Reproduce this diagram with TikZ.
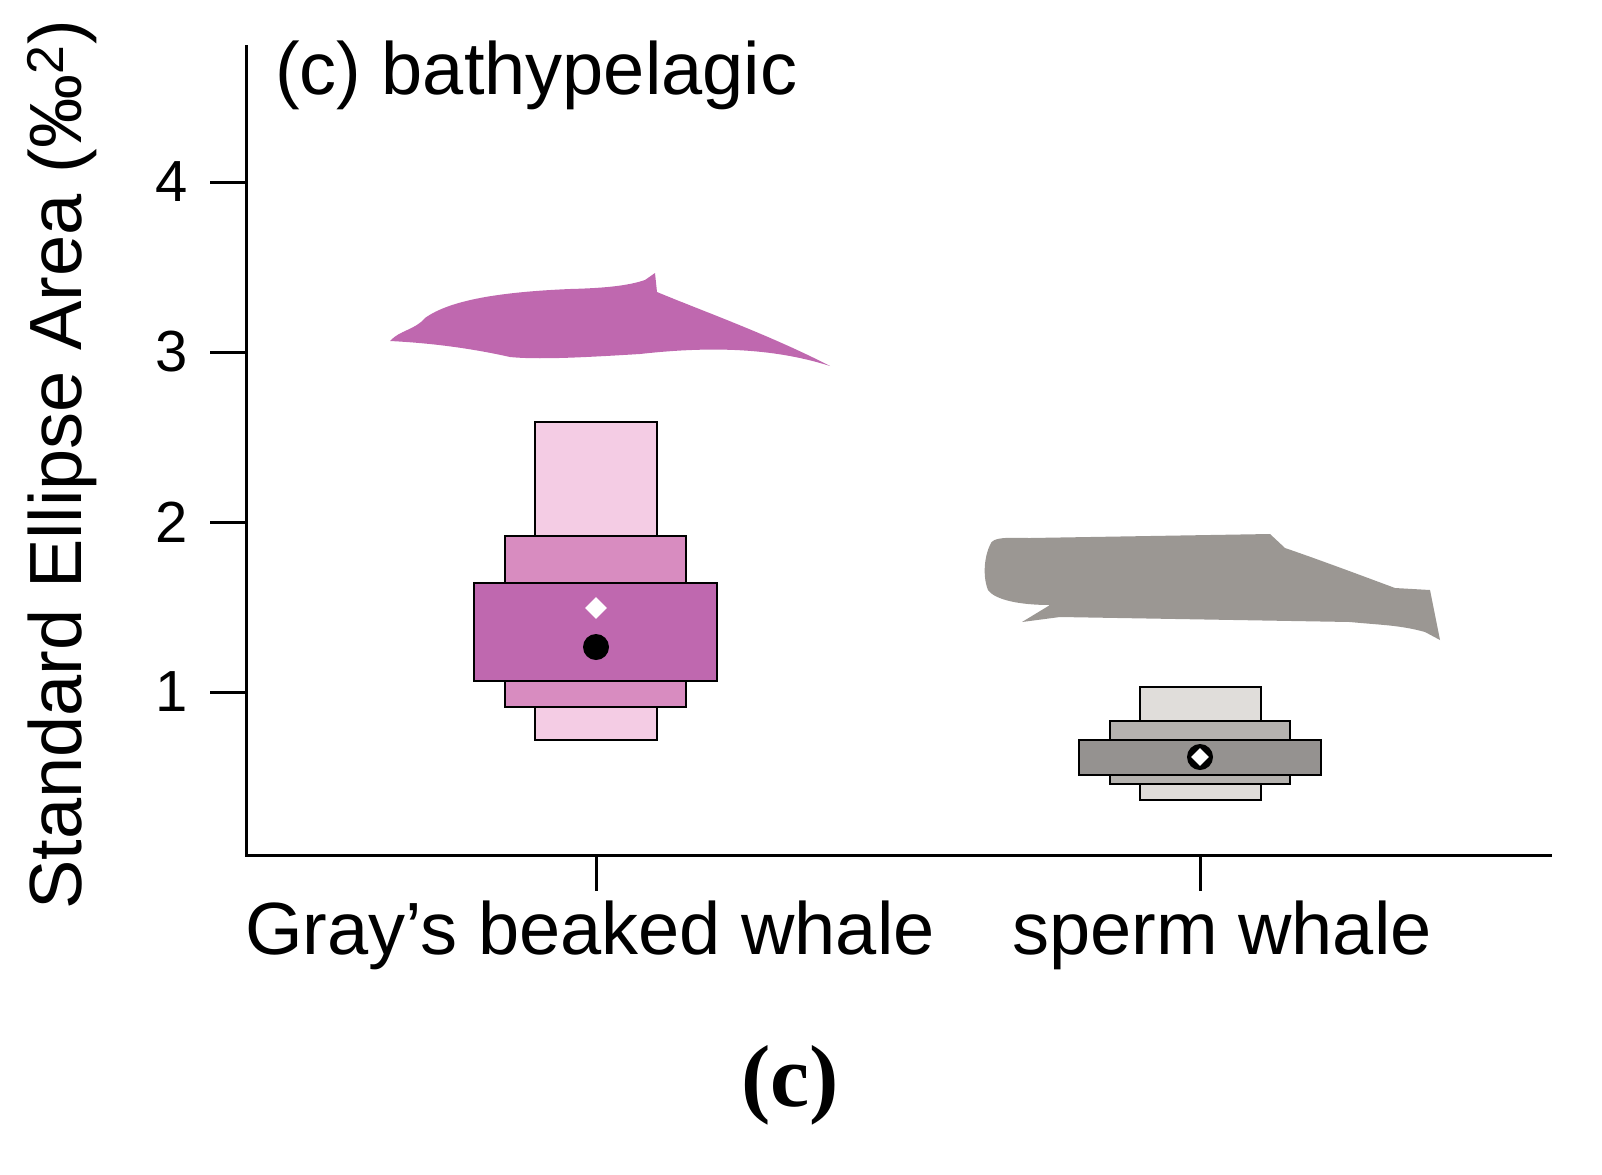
\documentclass[tikz,border=0pt]{standalone}
\usepackage{fontspec}
\setmainfont{Liberation Sans}
\newfontfamily\capfont{Liberation Serif}
\usetikzlibrary{shapes.geometric}
\definecolor{pk1}{RGB}{244,204,228}
\definecolor{pk2}{RGB}{216,140,192}
\definecolor{pk3}{RGB}{191,104,175}
\definecolor{gy1}{RGB}{224,221,218}
\definecolor{gy2}{RGB}{181,178,175}
\definecolor{gy3}{RGB}{149,146,144}
\definecolor{gyw}{RGB}{155,151,147}
\begin{document}
\begin{tikzpicture}[x=0.5pt,y=-0.5pt,
  ax/.style={line width=1.5pt},
  lbl/.style={font=\fontsize{37}{44}\selectfont},
  tl/.style={font=\fontsize{29}{34}\selectfont},
  bx/.style={draw=black,line width=1.2pt}]
\useasboundingbox (0,0) rectangle (1602,1174);
\coordinate (top) at (246,45); \coordinate (org) at (246,855); \coordinate (rt) at (1552,855);
\draw[ax] (top) -- (org) -- (rt);
\foreach \y/\t in {182/4,352/3,522/2,692/1}{
  \coordinate (t\t) at (210,\y);
  \draw[ax] (t\t) -- (246,\y);
  \node[tl,anchor=east] (l\t) at (195,\y) {\t};
}
\coordinate (xa) at (596,855); \coordinate (xb) at (1200,855);
\draw[ax] (xa) -- ++(0,36); \draw[ax] (xb) -- ++(0,36);
\node[lbl] (ga) at (590,935) {Gray’s beaked whale};
\node[lbl] (sp) at (1222,935) {sperm whale};
\node[lbl,anchor=west] (ttl) at (268,75) {(c) bathypelagic};
\node[lbl,rotate=90] (yl) at (62,465) {Standard Ellipse Area (‰\textsuperscript{2})};
\node[font=\capfont\bfseries\fontsize{44}{50}\selectfont] (cap) at (790,1085) {(c)};
% beaked whale silhouette
\fill[pk3]
 (390,341) .. controls (400,330) and (415,330) .. (425,318)
 .. controls (450,300) and (500,292) .. (570,289)
 .. controls (610,288) and (630,285) .. (645,280)
 -- (655,273) -- (657,292)
 .. controls (700,310) and (770,335) .. (830,366)
 .. controls (780,350) and (720,345) .. (640,354)
 .. controls (590,357) and (540,360) .. (510,357)
 .. controls (470,348) and (430,343) .. cycle;
% sperm whale silhouette
\fill[gyw]
 (990,545) .. controls (992,536) and (1010,538) .. (1030,538)
 -- (1270,534) -- (1285,548)
 .. controls (1320,560) and (1360,575) .. (1395,588)
 -- (1430,590) -- (1440,640) -- (1425,632)
 .. controls (1400,625) and (1380,625) .. (1350,622)
 -- (1060,617) -- (1022,622) -- (1050,605)
 .. controls (1020,605) and (995,600) .. (988,590)
 .. controls (982,575) and (985,555) .. cycle;
% beaked boxes
\draw[bx,fill=pk1] (535,422) rectangle (657,740);
\draw[bx,fill=pk2] (505,536) rectangle (686,707);
\draw[bx,fill=pk3] (474,583) rectangle (717,681);
\node[diamond,fill=white,inner sep=0pt,minimum size=11pt] (gd) at (596,608) {};
\fill (596,647) circle (13);
% sperm boxes
\draw[bx,fill=gy1] (1140,687) rectangle (1261,800);
\draw[bx,fill=gy2] (1110,721) rectangle (1290,784);
\draw[bx,fill=gy3] (1079,740) rectangle (1321,775);
\fill (1200,757) circle (13);
\node[diamond,fill=white,inner sep=0pt,minimum size=9pt] (sd) at (1200,757) {};
\end{tikzpicture}
\end{document}
